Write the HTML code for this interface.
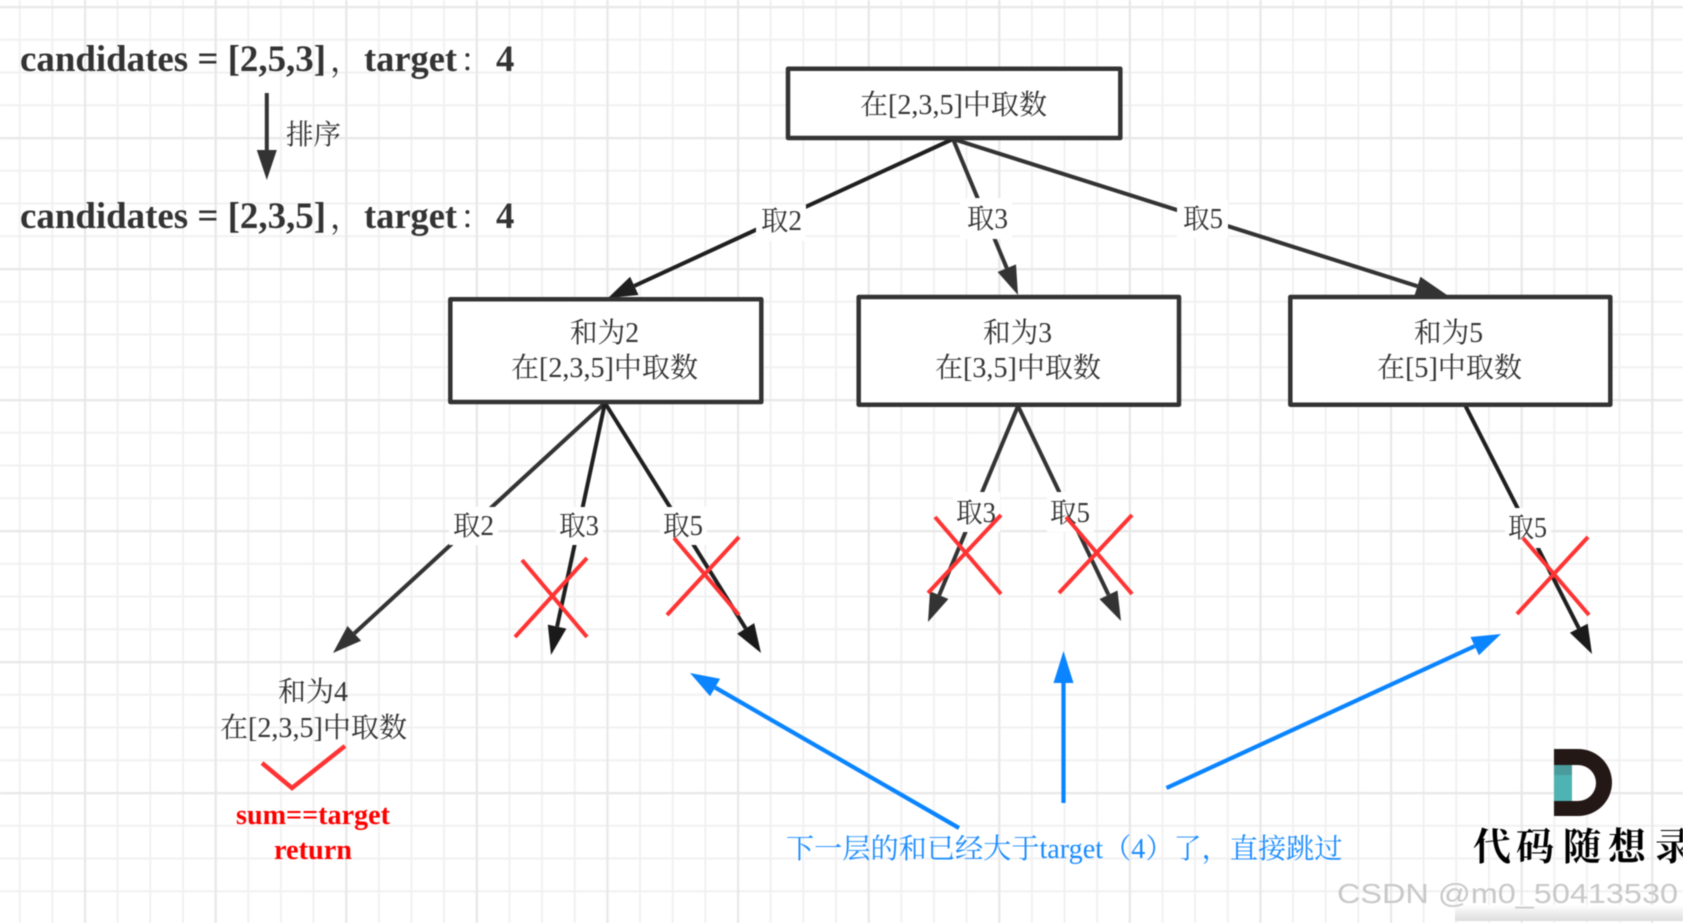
<!DOCTYPE html>
<html>
<head>
<meta charset="utf-8">
<style>
html,body{margin:0;padding:0;background:#fff;width:1683px;height:923px;overflow:hidden}
svg{display:block;filter:blur(.45px)}
text{font-family:"Liberation Serif","Noto Serif CJK SC",serif;font-size:28px;fill:#333}
.b{font-weight:bold;font-size:36.7px;fill:#333}
.p{font-size:32px;fill:#333}
.lbl{fill:#333}
.blk{stroke:#1f1f1f;stroke-width:4;fill:none}
.drk{stroke:#333;stroke-width:4;fill:none}
.red{stroke:#ff3333;stroke-width:4;fill:none}
.blu{stroke:#0a84ff;stroke-width:4.2;fill:none}
.box{fill:#fff;stroke:#333;stroke-width:4.5;stroke-linejoin:round}
</style>
</head>
<body>
<svg width="1683" height="923" viewBox="0 0 1683 923" xmlns="http://www.w3.org/2000/svg">
<defs>
<pattern id="minor" x="18.7" y="6" width="32.65" height="32.75" patternUnits="userSpaceOnUse">
<path d="M1 0V32.75M0 1H32.65" stroke="#f1f1f1" stroke-width="2" fill="none"/>
</pattern>
<pattern id="major" x="84" y="6" width="130.6" height="131" patternUnits="userSpaceOnUse">
<path d="M1 0V131M0 1H130.6" stroke="#e8e8e8" stroke-width="2.4" fill="none"/>
</pattern>
<linearGradient id="shade" x1="0" y1="0" x2="0" y2="1">
<stop offset="0" stop-color="#ffffff"/>
<stop offset="1" stop-color="#dcdcdc"/>
</linearGradient>
</defs>
<rect width="1683" height="923" fill="#fff"/>
<rect width="1683" height="923" fill="url(#minor)"/>
<rect width="1683" height="923" fill="url(#major)"/>

<!-- heading -->
<text class="b" x="20" y="71" textLength="306" lengthAdjust="spacingAndGlyphs">candidates = [2,5,3]</text>
<text class="p" x="330" y="71">，</text>
<text class="b" x="364" y="71" textLength="93" lengthAdjust="spacingAndGlyphs">target</text>
<text class="p" x="460" y="71">：</text>
<text class="b" x="496" y="71">4</text>

<line class="drk" x1="266.8" y1="93" x2="266.8" y2="152"/>
<polygon points="256.8,150 276.8,150 266.8,180" fill="#333"/>
<text x="286" y="144" textLength="55" lengthAdjust="spacingAndGlyphs">排序</text>

<text class="b" x="20" y="228" textLength="306" lengthAdjust="spacingAndGlyphs">candidates = [2,3,5]</text>
<text class="p" x="330" y="228">，</text>
<text class="b" x="364" y="228" textLength="93" lengthAdjust="spacingAndGlyphs">target</text>
<text class="p" x="460" y="228">：</text>
<text class="b" x="496" y="228">4</text>

<!-- top connectors -->
<line class="blk" x1="953" y1="139" x2="634.3" y2="285.9"/>
<polygon points="608,298 638.5,295 630.1,276.8" fill="#1f1f1f"/>
<line class="drk" x1="953" y1="139" x2="1006.8" y2="268.2"/>
<polygon points="1018,295 1016,264.4 997.6,272" fill="#333"/>
<line class="drk" x1="953" y1="139" x2="1417.4" y2="286.2"/>
<polygon points="1447,295 1414.4,295.7 1420.4,276.7" fill="#333"/>

<!-- second level connectors -->
<line class="drk" x1="605" y1="403" x2="354.3" y2="633.4"/>
<polygon points="333,653 361.1,640.8 347.5,626" fill="#333"/>
<line class="blk" x1="605" y1="403" x2="557.1" y2="626.6"/>
<polygon points="551,655 566.4,628.6 547.8,624.6" fill="#1a1a1a"/>
<line class="blk" x1="605" y1="403" x2="745.7" y2="628.4"/>
<polygon points="761,653 754.2,623.1 737.2,633.7" fill="#1a1a1a"/>
<line class="drk" x1="1018" y1="406" x2="939.2" y2="595.2"/>
<polygon points="928,622 948.4,599 930,591.3" fill="#333"/>
<line class="drk" x1="1018" y1="406" x2="1108.5" y2="594.8"/>
<polygon points="1121,621 1117.5,590.5 1099.5,599.1" fill="#333"/>
<line class="blk" x1="1465" y1="405" x2="1578.8" y2="628.2"/>
<polygon points="1592,654 1587.7,623.7 1569.9,632.7" fill="#1a1a1a"/>

<!-- boxes -->
<rect class="box" x="788" y="68.7" width="332.3" height="69.3"/>
<rect class="box" x="450.3" y="299.3" width="311" height="102.7"/>
<rect class="box" x="858.7" y="297" width="320.3" height="107.7"/>
<rect class="box" x="1290.3" y="297" width="320" height="107.7"/>

<text x="860" y="114" textLength="187" lengthAdjust="spacingAndGlyphs">在[2,3,5]中取数</text>
<text x="570" y="342" textLength="69" lengthAdjust="spacingAndGlyphs">和为2</text>
<text x="511" y="377" textLength="187" lengthAdjust="spacingAndGlyphs">在[2,3,5]中取数</text>
<text x="983" y="342" textLength="69" lengthAdjust="spacingAndGlyphs">和为3</text>
<text x="935" y="377" textLength="166" lengthAdjust="spacingAndGlyphs">在[3,5]中取数</text>
<text x="1414" y="342" textLength="69" lengthAdjust="spacingAndGlyphs">和为5</text>
<text x="1377" y="377" textLength="145" lengthAdjust="spacingAndGlyphs">在[5]中取数</text>

<!-- label backgrounds -->
<rect x="756" y="205" width="50" height="36" fill="#fff"/>
<rect x="960" y="198" width="52" height="41" fill="#fff"/>
<rect x="1177" y="200" width="51" height="38" fill="#fff"/>
<rect x="449" y="507" width="49" height="38" fill="#fff"/>
<rect x="556" y="507" width="47" height="38" fill="#fff"/>
<rect x="660" y="507" width="47" height="38" fill="#fff"/>
<rect x="953" y="492" width="47" height="40" fill="#fff"/>
<rect x="1047" y="492" width="47" height="40" fill="#fff"/>
<rect x="1505" y="508" width="46" height="40" fill="#fff"/>

<!-- labels -->
<text class="lbl" x="761" y="230" textLength="41" lengthAdjust="spacingAndGlyphs">取2</text>
<text class="lbl" x="967" y="228" textLength="41" lengthAdjust="spacingAndGlyphs">取3</text>
<text class="lbl" x="1183" y="228" textLength="40" lengthAdjust="spacingAndGlyphs">取5</text>
<text class="lbl" x="453" y="535" textLength="41" lengthAdjust="spacingAndGlyphs">取2</text>
<text class="lbl" x="559" y="535" textLength="40" lengthAdjust="spacingAndGlyphs">取3</text>
<text class="lbl" x="663" y="535" textLength="40" lengthAdjust="spacingAndGlyphs">取5</text>
<text class="lbl" x="956" y="522" textLength="40" lengthAdjust="spacingAndGlyphs">取3</text>
<text class="lbl" x="1050" y="522" textLength="40" lengthAdjust="spacingAndGlyphs">取5</text>
<text class="lbl" x="1508" y="537" textLength="39" lengthAdjust="spacingAndGlyphs">取5</text>

<!-- red crosses -->
<path class="red" d="M522 560L587 637M587 558L515 637"/>
<path class="red" d="M674 538L739 615M739 537L667 615"/>
<path class="red" d="M935 517L1001 594M1001 515L928 593"/>
<path class="red" d="M1066 517L1132 594M1132 515L1059 593"/>
<path class="red" d="M1523 538L1589 615M1588 537L1517 614"/>

<!-- result node -->
<text x="278" y="701" textLength="70" lengthAdjust="spacingAndGlyphs">和为4</text>
<text x="220" y="737" textLength="187" lengthAdjust="spacingAndGlyphs">在[2,3,5]中取数</text>
<path class="red" d="M262 763L292 788L345 746" style="stroke-width:4.4"/>
<text x="236" y="824" textLength="154" lengthAdjust="spacingAndGlyphs" style="font-weight:bold;fill:#ff0000">sum==target</text>
<text x="274" y="859" textLength="78" lengthAdjust="spacingAndGlyphs" style="font-weight:bold;fill:#ff0000">return</text>

<!-- blue arrows -->
<line class="blu" x1="959" y1="828" x2="715.1" y2="687.5"/>
<polygon points="690,673 720.1,678.8 710.1,696.2" fill="#0a84ff"/>
<line class="blu" x1="1063.5" y1="803" x2="1063.5" y2="681"/>
<polygon points="1063.5,651 1053.5,683 1073.5,683" fill="#0a84ff"/>
<line class="blu" x1="1166.5" y1="788" x2="1474.7" y2="646.1"/>
<polygon points="1501,634 1478.9,655.2 1470.5,637" fill="#0a84ff"/>
<text x="786" y="858" textLength="556.5" lengthAdjust="spacingAndGlyphs" style="fill:#1a8cff">下一层的和已经大于target（4）了，直接跳过</text>

<!-- logo -->
<path d="M1554 749H1578A34 33.5 0 0 1 1578 816H1554Z" fill="#231815"/>
<path d="M1554 765H1578A18 18 0 0 1 1578 801H1554Z" fill="#fff"/>
<rect x="1554" y="765" width="18" height="36" fill="#4fb3b3"/>
<rect x="1554" y="765" width="18" height="10" fill="#4a9c9c"/>
<text x="1473 1516 1563 1608 1655" y="860" style="font-family:'Noto Serif CJK SC',serif;font-weight:700;font-size:38px;fill:#000">代码随想录</text>

<!-- watermark -->
<rect x="1455" y="905" width="228" height="16" fill="url(#shade)"/>
<text x="1337" y="903" textLength="341" lengthAdjust="spacingAndGlyphs" style="font-family:'Liberation Sans',sans-serif;font-size:28px;fill:#c8c8c8">CSDN @m0_50413530</text>
</svg>
</body>
</html>
